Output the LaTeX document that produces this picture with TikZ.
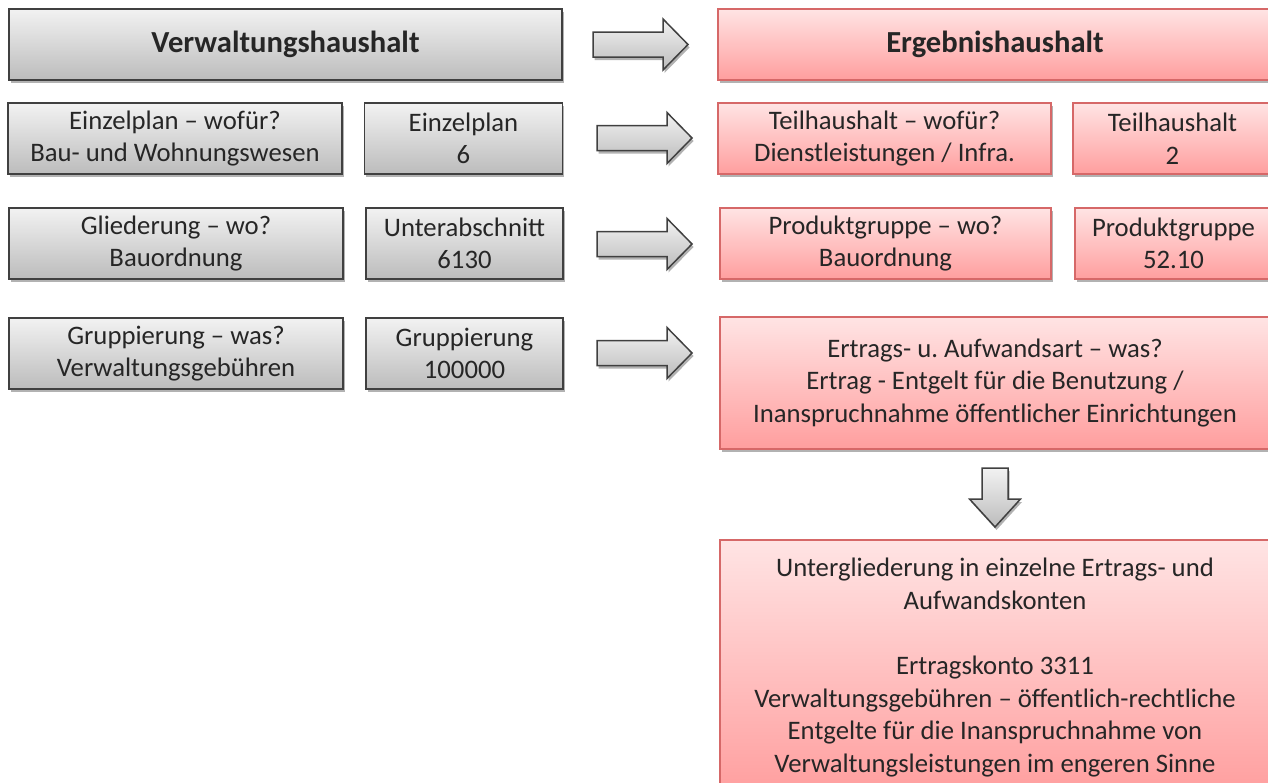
\documentclass[tikz,border=0pt]{standalone}
\usepackage{fontspec}
\setmainfont{Carlito}
\usetikzlibrary{shadows}
\frenchspacing
\definecolor{gtop}{RGB}{242,242,242}
\definecolor{gbot}{RGB}{188,188,188}
\definecolor{gline}{RGB}{64,64,64}
\definecolor{rtop}{RGB}{255,228,228}
\definecolor{rbot}{RGB}{255,158,158}
\definecolor{rline}{RGB}{214,104,104}
\definecolor{txt}{RGB}{38,38,38}
\begin{document}
\begin{tikzpicture}[x=1pt,y=-1pt,
  shadowed/.style={drop shadow={shadow xshift=1.5pt,shadow yshift=-3pt,opacity=0.3,fill=black}},
  box/.style={shadowed, rectangle, inner sep=0pt, line width=1.5pt, align=center, text=txt,
    font=\fontsize{26.7pt}{32.6pt}\selectfont},
  gbox/.style={box, draw=gline, top color=gtop, bottom color=gbot},
  rbox/.style={box, draw=rline, top color=rtop, bottom color=rbot},
  titletext/.style={font=\fontsize{30.6pt}{37pt}\selectfont\bfseries},
  barrow/.style={shadowed, draw=gline, line width=1.5pt, top color=gtop, bottom color=gbot, line join=miter},
  rarr/.pic={\draw[barrow] (0,-12.5) -- (70,-12.5) -- (70,-25.5) -- (95,0) -- (70,25.5) -- (70,12.5) -- (0,12.5) -- cycle;},
  darr/.pic={\draw[barrow] (-13,0) -- (13,0) -- (13,31) -- (25.5,31) -- (0,59) -- (-25.5,31) -- (-13,31) -- cycle;},
]
\useasboundingbox (0,0) rectangle (1268,782);
\clip (0,0) rectangle (1268,782);

% left column
\node[gbox, titletext, minimum width=553, minimum height=71] (vh) at (285.5,44.5) {Verwaltungshaushalt};
\node[gbox, minimum width=334, minimum height=71] (ew) at (175,138.5) {Einzelplan – wofür?\\Bau- und Wohnungswesen};
\node[gbox, minimum width=198, minimum height=71] (en) at (463.5,138.5) {Einzelplan\\6};
\node[gbox, minimum width=334, minimum height=71] (gw) at (176,243.5) {Gliederung – wo?\\Bauordnung};
\node[gbox, minimum width=197, minimum height=71] (gn) at (464.5,243.5) {Unterabschnitt\\6130};
\node[gbox, minimum width=334, minimum height=71] (pw) at (176,353.5) {Gruppierung – was?\\Verwaltungsgebühren};
\node[gbox, minimum width=197, minimum height=71] (pn) at (464.5,353.5) {Gruppierung\\100000};

% right column
\node[rbox, titletext, minimum width=554, minimum height=71] (eh) at (995,44.5) {Ergebnishaushalt};
\node[rbox, minimum width=333, minimum height=71] (tw) at (884.5,138.5) {Teilhaushalt – wofür?\\Dienstleistungen / Infra.};
\node[rbox, minimum width=199, minimum height=71] (tn) at (1172.5,138.5) {Teilhaushalt\\2};
\node[rbox, minimum width=331, minimum height=71] (qw) at (885.5,243.5) {Produktgruppe – wo?\\Bauordnung};
\node[rbox, minimum width=197, minimum height=71] (qn) at (1173.5,243.5) {Produktgruppe\\52.10};
\node[rbox, minimum width=550, minimum height=132] (ea) at (995,383) {Ertrags- u. Aufwandsart – was?\\Ertrag - Entgelt für die Benutzung /\\Inanspruchnahme öffentlicher Einrichtungen};
\node[rbox, minimum width=550, minimum height=255] (ug) at (995,667.5) {Untergliederung in einzelne Ertrags- und\\Aufwandskonten\\[32.6pt]Ertragskonto 3311\\Verwaltungsgebühren – öffentlich-rechtliche\\Entgelte für die Inanspruchnahme von\\Verwaltungsleistungen im engeren Sinne};

% block arrows
\pic (a1) at (593,44.5) {rarr};
\pic (a2) at (597,138) {rarr};
\pic (a3) at (597,244) {rarr};
\pic (a4) at (597,353) {rarr};
\pic (a5) at (995,468) {darr};
\end{tikzpicture}
\end{document}
